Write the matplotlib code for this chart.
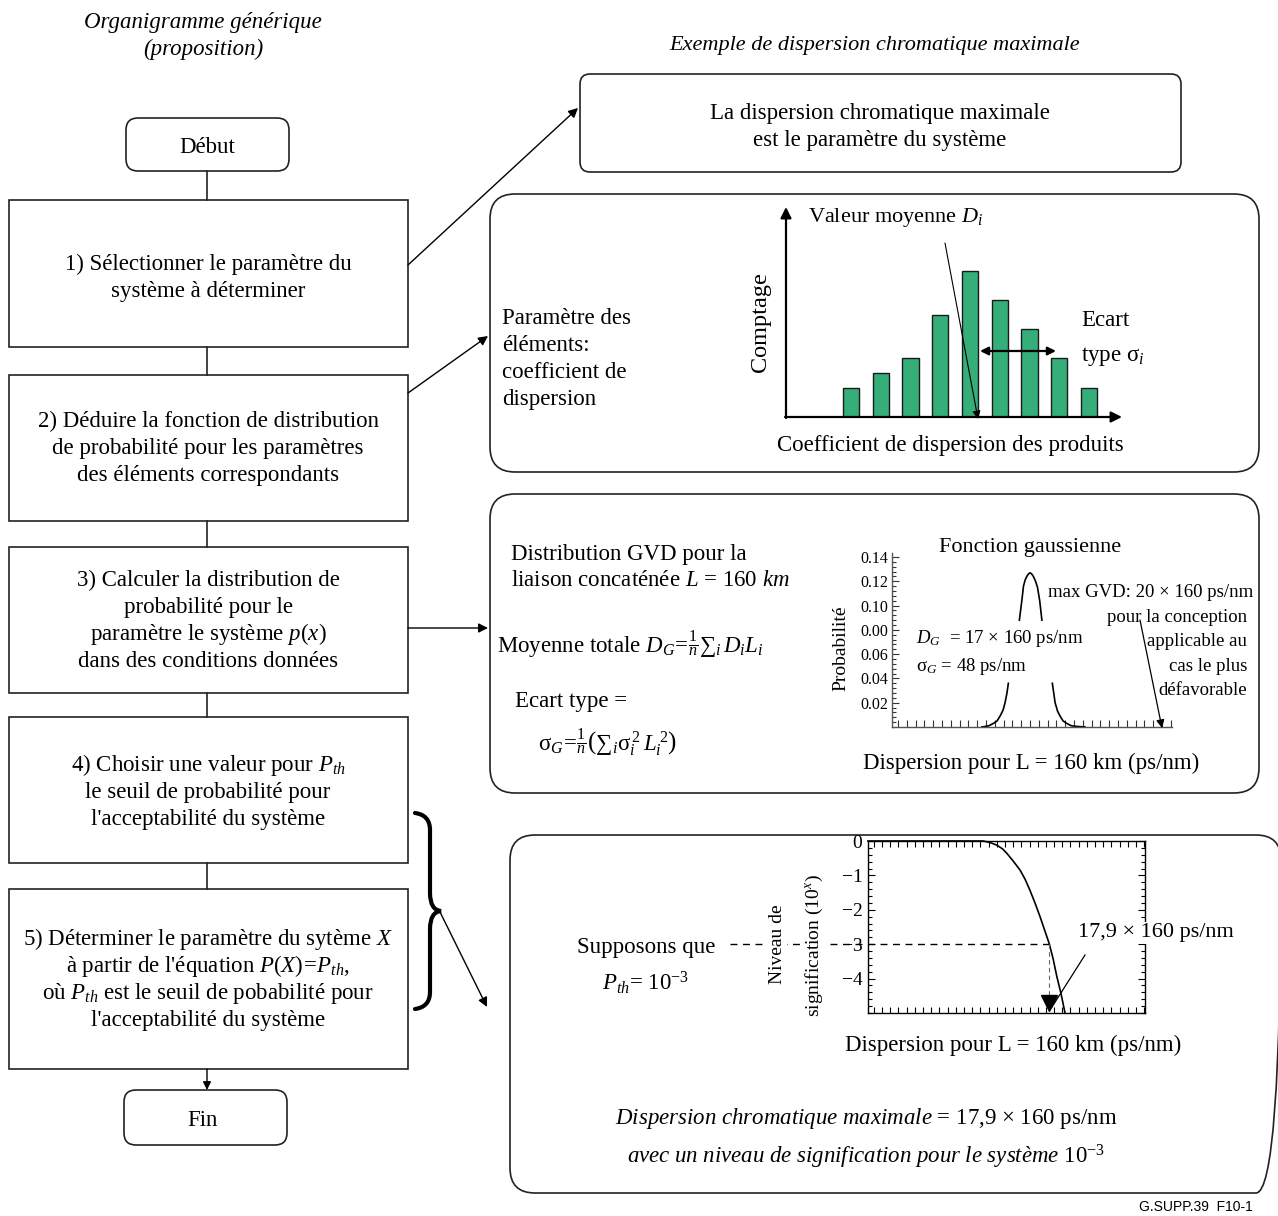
import matplotlib
matplotlib.use('Agg')
import matplotlib.pyplot as plt
from matplotlib.patches import FancyBboxPatch, PathPatch
from matplotlib.path import Path
from matplotlib.ticker import MultipleLocator, FixedLocator, FixedFormatter

plt.rcParams['font.family'] = ['Liberation Serif', 'DejaVu Serif']
plt.rcParams['mathtext.fontset'] = 'custom'
plt.rcParams['mathtext.rm'] = 'Liberation Serif'
plt.rcParams['mathtext.it'] = 'Liberation Serif:italic'
plt.rcParams['mathtext.bf'] = 'Liberation Serif:bold'

# ---- data ----
step_labels = [
    ['1) Sélectionner le paramètre du', 'système à déterminer'],
    ['2) Déduire la fonction de distribution', 'de probabilité pour les paramètres',
     'des éléments correspondants'],
    ['3) Calculer la distribution de', 'probabilité pour le',
     r'paramètre le système $p(x)$', 'dans des conditions données'],
    [r'4) Choisir une valeur pour $P_{th}$', 'le seuil de probabilité pour',
     "l'acceptabilité du système"],
    [r'5) Déterminer le paramètre du sytème $X$', r"à partir de l'équation $P(X)\!=\!P_{th}$,",
     r'où $P_{th}$ est le seuil de pobabilité pour', "l'acceptabilité du système"],
]
hist_bins = [1, 2, 3, 4, 5, 6, 7, 8, 9]
hist_counts = [2, 3, 4, 7, 10, 8, 6, 4, 2]

# gaussian curve (ps/nm, probability), drawn in three pieces as in the figure
gauss_left_x = [2545, 2570, 2587, 2600, 2611, 2622, 2629, 2636, 2641]
gauss_left_y = [0.0, 0.001, 0.003, 0.005, 0.009, 0.014, 0.020, 0.028, 0.036]
gauss_top_x = [2681, 2690, 2696, 2702, 2708, 2714, 2720, 2726, 2732, 2740, 2747, 2755, 2763]
gauss_top_y = [0.088, 0.104, 0.116, 0.121, 0.124, 0.126, 0.127, 0.126, 0.124, 0.120, 0.115, 0.104, 0.088]
gauss_right_x = [2801, 2806, 2811, 2820, 2829, 2840, 2853, 2870, 2890, 2920]
gauss_right_y = [0.036, 0.028, 0.020, 0.013, 0.009, 0.005, 0.003, 0.001, 0.0005, 0.0]
gauss_ticks = [0.02, 0.04, 0.06, 0.08, 0.10, 0.12, 0.14]
gauss_tick_labels = ['0.02', '0.04', '0.06', '0.00', '0.10', '0.12', '0.14']
mean_gvd = 17 * 160
max_gvd = 20 * 160

# significance level curve (ps/nm, log10)
sig_x = [2400, 2600, 2695, 2712, 2730, 2745, 2756, 2772, 2790, 2803, 2815, 2828,
         2841, 2853, 2865, 2875, 2884, 2895, 2905]
sig_y = [0, 0, 0, -0.04, -0.12, -0.23, -0.36, -0.58, -0.85, -1.12, -1.43, -1.8,
         -2.2, -2.6, -3.0, -3.45, -3.94, -4.45, -5.0]
sig_ticks = [0, -1, -2, -3, -4]
sig_tick_labels = ['0', '\u22121', '\u22122', '\u22123', '\u22124']
p_th = -3
x_at_pth = 17.9 * 160

W, H = 1278, 1216
PX = 100 / 72

fig = plt.figure(figsize=(W / 100, H / 100), dpi=100)
ax = fig.add_axes([0, 0, 1, 1])
ax.set_xlim(0, W)
ax.set_ylim(H, 0)
ax.axis('off')


def px_axes(x0, y0, x1, y1):
    a = fig.add_axes([x0 / W, 1 - y1 / H, (x1 - x0) / W, (y1 - y0) / H])
    a.set_facecolor('none')
    return a


def label(x, y, s, size=16.5, ha='center', style='normal', target=None, **kw):
    t = target if target is not None else ax
    t.text(x, y + 0.33 * size * PX, s, fontsize=size, ha=ha, va='baseline',
           style=style, transform=ax.transData, clip_on=False, **kw)


def box(x0, y0, x1, y1, r=0, lw=1.2):
    style = 'round,pad=0,rounding_size=%d' % r if r else 'square,pad=0'
    ax.add_patch(FancyBboxPatch((x0, y0), x1 - x0, y1 - y0, boxstyle=style,
                                fc='none', ec='#222222', lw=lw))


def arrow(x0, y0, x1, y1, target=None, lw=1.0, ms=14, style='-|>'):
    t = target if target is not None else ax
    t.annotate('', xy=(x1, y1), xytext=(x0, y0), xycoords=ax.transData,
               textcoords=ax.transData, annotation_clip=False,
               arrowprops=dict(arrowstyle=style, color='black', lw=lw,
                               mutation_scale=ms, shrinkA=0, shrinkB=0))


# ---- left flowchart ----
label(203, 20, 'Organigramme générique', style='italic', size=16.5)
label(203, 47, '(proposition)', style='italic', size=16.5)

box(126, 118, 289, 171, r=12)
label(207, 145, 'Début')
step_boxes = [(200, 347), (375, 521), (547, 693), (717, 863), (889, 1069)]
step_first_line = [262, 419, 578, 763, 937]
for (y0, y1), lines, yl in zip(step_boxes, step_labels, step_first_line):
    box(9, y0, 408, y1)
    for i, s in enumerate(lines):
        label(208, yl + i * 27.3, s)
conn = [(171, 200), (347, 375), (521, 547), (693, 717), (863, 889)]
for a, b in conn:
    ax.plot([207, 207], [a, b], color='#222222', lw=1.2)
arrow(207, 1069, 207, 1090, ms=12)
box(124, 1090, 287, 1145, r=12)
label(202, 1118, 'Fin')

# ---- right side ----
label(875, 43, 'Exemple de dispersion chromatique maximale', style='italic', size=16)
box(580, 74, 1181, 172, r=10)
label(880, 111, 'La dispersion chromatique maximale')
label(880, 138, 'est le paramètre du système')
arrow(408, 265, 578, 108)

# histogram panel
box(490, 194, 1259, 472, r=25)
arrow(408, 393, 488, 336)
for i, s in enumerate(['Paramètre des', 'éléments:', 'coefficient de', 'dispersion']):
    label(502, 316 + i * 27, s, ha='left')

hist_ax = px_axes(786, 212, 1118, 417)
hist_ax.axis('off')
hist_ax.bar(hist_bins, hist_counts, width=0.54, color='#35AE7A', edgecolor='#1a1a1a', lw=1)
hist_ax.set_xlim(-1.185, 9.975)
hist_ax.set_ylim(0, 14)
arrow(786, 418, 786, 207, target=hist_ax, lw=1.6, ms=16)
arrow(785, 417, 1122, 417, target=hist_ax, lw=1.6, ms=16)
arrow(945, 243, 978, 419, target=hist_ax, lw=0.8, ms=12)
arrow(1016, 351, 980, 351, target=hist_ax, lw=1.6, ms=12)
arrow(1016, 351, 1056, 351, target=hist_ax, lw=1.6, ms=12)
label(808, 215, r'Valeur moyenne $D_i$', ha='left', size=16)
ax.text(761, 322, 'Comptage', fontsize=17.5, rotation=90, ha='center', va='center')
label(1081, 318, 'Ecart', ha='left')
label(1081, 353, r'type $\mathrm{\sigma}_i$', ha='left')
label(950, 443, 'Coefficient de dispersion des produits')

# gaussian panel
box(490, 494, 1259, 793, r=25)
arrow(408, 628, 488, 628)
label(511, 552, 'Distribution GVD pour la', ha='left')
label(511, 578, r'liaison concaténée $L$ = 160 $km$', ha='left')
label(497, 645, 'Moyenne totale $D_G\\!=\\!\\frac{1}{n}\\mathrm{\u2211}_i\\, D_i L_i$', ha='left')
label(515, 699, 'Ecart type =', ha='left')
label(538, 743, '$\\mathrm{\\sigma}_G\\!=\\!\\frac{1}{n}\\left(\\mathrm{\u2211}_i\\mathrm{\\sigma}_i^{\\,2}\\,L_i^{\\,2}\\right)$',
      ha='left')

g_ax = px_axes(892, 553, 1172, 727)
for side in ['top', 'right']:
    g_ax.spines[side].set_visible(False)
for side in ['left', 'bottom']:
    g_ax.spines[side].set_color('#555555')
    g_ax.spines[side].set_linewidth(1.0)
g_ax.plot(gauss_left_x, gauss_left_y, color='black', lw=1.2)
g_ax.plot(gauss_top_x, gauss_top_y, color='black', lw=1.2)
g_ax.plot(gauss_right_x, gauss_right_y, color='black', lw=1.2)
g_ax.set_xlim(2218, 3236)
g_ax.set_ylim(0, 0.1433)
g_ax.yaxis.set_major_locator(FixedLocator(gauss_ticks))
g_ax.yaxis.set_major_formatter(FixedFormatter(gauss_tick_labels))
g_ax.yaxis.set_minor_locator(MultipleLocator(0.004))
g_ax.xaxis.set_major_locator(MultipleLocator(32))
g_ax.tick_params(axis='both', which='both', direction='in', color='#333333', width=0.8)
g_ax.tick_params(axis='y', which='major', length=5, labelsize=11.5, pad=3)
g_ax.tick_params(axis='y', which='minor', length=3)
g_ax.tick_params(axis='x', which='major', length=5, labelbottom=False)
label(1030, 545, 'Fonction gaussienne', size=16)
ax.text(841, 648, 'Probabilité', fontsize=14, rotation=90, ha='center', va='center')
label(916, 637, r'$D_G$  = 17 × 160 ps/nm', ha='left', size=13.5)
label(916, 665, r'$\mathrm{\sigma}_G$ = 48 ps/nm', ha='left', size=13.5)
label(1253, 591, 'max GVD: 20 × 160 ps/nm', ha='right', size=13.5)
for i, s in enumerate(['pour la conception', 'applicable au', 'cas le plus', 'défavorable']):
    label(1247, 616 + i * 24.3, s, ha='right', size=13.5)
arrow(1140, 620, 1162, 728, target=g_ax, lw=0.9, ms=12)
label(1031, 761, 'Dispersion pour L = 160 km (ps/nm)')

# significance panel
box(510, 835, 1281, 1193, r=25)
brace = Path([(415, 813), (430, 815), (430, 830), (430, 893), (430, 910), (441, 911),
              (430, 912), (430, 929), (430, 992), (430, 1007), (415, 1009)],
             [Path.MOVETO, Path.CURVE3, Path.CURVE3, Path.LINETO, Path.CURVE3, Path.CURVE3,
              Path.CURVE3, Path.CURVE3, Path.LINETO, Path.CURVE3, Path.CURVE3])
ax.add_patch(PathPatch(brace, fc='none', ec='black', lw=3, capstyle='round'))
arrow(440, 912, 487, 1007)

s_ax = px_axes(868, 841, 1145, 1013)
s_ax.plot(sig_x, sig_y, color='black', lw=1.2, clip_on=False)
s_ax.set_xlim(2400, 3110)
s_ax.set_ylim(-5, 0)
for sp in s_ax.spines.values():
    sp.set_linewidth(1.0)
s_ax.yaxis.set_major_locator(FixedLocator(sig_ticks))
s_ax.yaxis.set_major_formatter(FixedFormatter(sig_tick_labels))
s_ax.yaxis.set_minor_locator(MultipleLocator(0.2))
s_ax.xaxis.set_major_locator(MultipleLocator(21))
s_ax.tick_params(axis='both', which='both', direction='in', top=True, right=True, width=0.8)
s_ax.tick_params(axis='y', which='major', length=5, labelsize=14, pad=4)
s_ax.tick_params(axis='y', which='minor', length=3)
s_ax.tick_params(axis='x', which='major', length=4, labelbottom=False)
s_ax.plot([2046, x_at_pth], [p_th, p_th], color='black', lw=1, dashes=(5, 4), clip_on=False)
s_ax.plot([x_at_pth, x_at_pth], [p_th, -4.6], color='#666666', lw=0.8, dashes=(4, 3))
s_ax.plot([x_at_pth], [-4.7], marker='v', ms=11, color='black', clip_on=False)
s_ax.plot([1085, 1052], [955, 1007], color='black', lw=0.9, transform=ax.transData)
s_ax.text(777, 944, 'Niveau de', fontsize=14, rotation=90, ha='center', va='center',
          transform=ax.transData, clip_on=False, zorder=5,
          bbox=dict(fc='white', ec='none', pad=1))
s_ax.text(814, 946, r'signification (10$^x$)', fontsize=14, rotation=90, ha='center',
          va='center', transform=ax.transData, clip_on=False, zorder=5,
          bbox=dict(fc='white', ec='none', pad=1))
label(1156, 930, '17,9 × 160 ps/nm', size=16, target=s_ax, zorder=6,
      bbox=dict(fc='white', ec='none', pad=1))
label(646, 945, 'Supposons que')
label(646, 983, r'$P_{th}$= 10$^{-3}$')
label(1013, 1043, 'Dispersion pour L = 160 km (ps/nm)')
label(866, 1116, r'$\mathit{Dispersion\ chromatique\ maximale}$ = 17,9 × 160 ps/nm')
label(866, 1156, r'$\mathit{avec\ un\ niveau\ de\ signification\ pour\ le\ système}$ 10$^{-3}$')

ax.text(1196, 1207, 'G.SUPP.39  F10-1', fontsize=10, family='Liberation Sans',
        ha='center', va='center')

fig.savefig('out.png', dpi=100)
